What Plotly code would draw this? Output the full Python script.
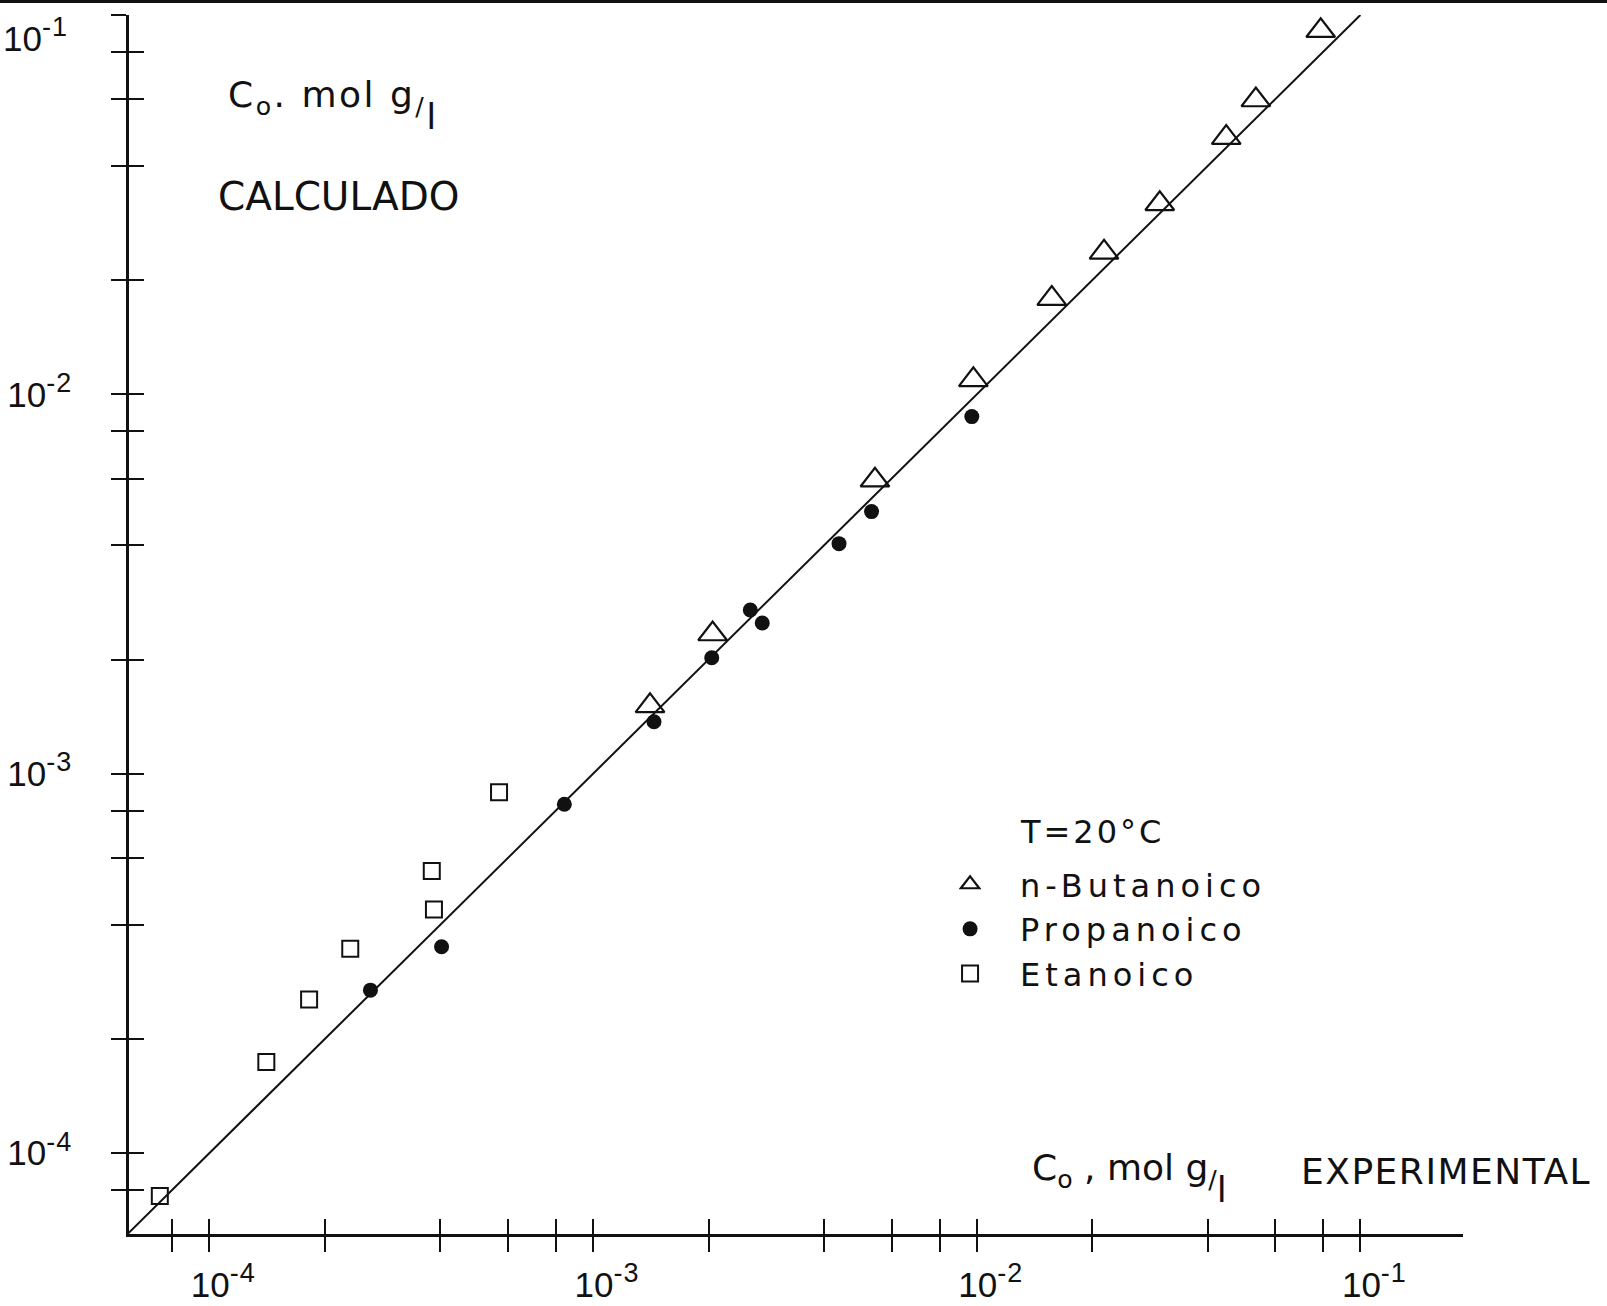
import plotly.graph_objects as go

# ---------------- data ----------------
but_x = [0.0788, 0.0534, 0.0447, 0.0300, 0.02147, 0.01569, 0.00980, 0.00543, 0.00205, 0.001408]
but_y = [0.0909, 0.0597, 0.0475, 0.0318, 0.02368, 0.01788, 0.01092, 0.00594, 0.002336, 0.00151]

prop_x = [0.00971, 0.00532, 0.004377, 0.002570, 0.002761, 0.002039, 0.001442, 0.000842, 0.000403, 0.000263]
prop_y = [0.00874, 0.00491, 0.004042, 0.002702, 0.002497, 0.002023, 0.001372, 0.000831, 0.000350, 0.000269]

etan_x = [0.000569, 0.000380, 0.000385, 0.000233, 0.000182, 0.0001408, 0.0000743]
etan_y = [0.000894, 0.000554, 0.000439, 0.000346, 0.000254, 0.000174, 0.0000771]

fit_x = [6.15e-5, 0.1]
fit_y = [6.15e-5, 0.1]

x_major_vals = [1e-4, 1e-3, 1e-2, 1e-1]
x_major_text = ["10<sup>-4</sup>", "10<sup>-3</sup>", "10<sup>-2</sup>", "10<sup>-1</sup>"]
x_minor_vals = [8e-5, 2e-4, 4e-4, 6e-4, 8e-4, 2e-3, 4e-3, 6e-3, 8e-3,
                2e-2, 4e-2, 6e-2, 8e-2]

y_major_vals = [1e-4, 1e-3, 1e-2]
y_major_text = ["10<sup>-4</sup>", "10<sup>-3</sup>", "10<sup>-2</sup>"]
y_minor_vals = [8e-5, 2e-4, 4e-4, 6e-4, 8e-4, 2e-3, 4e-3, 6e-3, 8e-3,
                2e-2, 4e-2, 6e-2, 8e-2, 1e-1]
y_top_label = "10<sup>-1</sup>"

series_names = ["n-Butanoico", "Propanoico", "Etanoico"]

# ---------------- styling ----------------
INK = "#111111"
TXT = "DejaVu Sans"
NUM = "Liberation Sans Narrow, Liberation Sans, DejaVu Sans"
NUM_SIZE = 35
XR = [-4.2093, -0.7326]
YR = [-4.2130, -1.0]
TL = 15      # tick half-length (ticks cross the axis line)
TW = 1.8


def spaced(s, px):
    return '<span style="letter-spacing:%spx">%s</span>' % (px, s)


def sup_wide(label):
    base, rest = label.split("<sup>")
    exp = rest.replace("</sup>", "")
    return (base + '<sup><span style="font-size:%dpx;letter-spacing:1px">' % round(NUM_SIZE * 0.76)
            + exp + "</span></sup>")


def unit_label(sep, size):
    # "C_o , mol g/l" with the l dropped below the slash, as lettered on the sheet
    return ("C<sub>o</sub>%smol g<sub>/</sub>"
            '<span style="baseline-shift:-%dpx">l</span>' % (sep, round(size * 0.62)))


fig = go.Figure()

fig.add_trace(go.Scatter(
    x=but_x, y=but_y, mode="markers", name=spaced(series_names[0], 5),
    marker=dict(symbol="triangle-up-open", size=25, color=INK,
                line=dict(width=2.2, color=INK)),
))
fig.add_trace(go.Scatter(
    x=prop_x, y=prop_y, mode="markers", name=spaced(series_names[1], 5),
    marker=dict(symbol="circle", size=15, color=INK, line=dict(width=0)),
))
fig.add_trace(go.Scatter(
    x=etan_x, y=etan_y, mode="markers", name=spaced(series_names[2], 5),
    marker=dict(symbol="square-open", size=16, color=INK,
                line=dict(width=2, color=INK)),
))
# 45-degree reference line (drawn on the overlay axes that carry the inner tick halves)
fig.add_trace(go.Scatter(
    x=fit_x, y=fit_y, mode="lines", showlegend=False, hoverinfo="skip",
    line=dict(color=INK, width=2), xaxis="x2", yaxis="y2",
))


def axis(rng, major_vals, major_text, minor_vals, side_ticks, labels, line):
    d = dict(
        type="log", range=rng, automargin=False,
        tickmode="array", tickvals=major_vals,
        ticks=side_ticks, ticklen=TL, tickwidth=TW, tickcolor=INK,
        minor=dict(tickmode="array", tickvals=minor_vals, ticks=side_ticks,
                   ticklen=TL, tickwidth=TW, tickcolor=INK, showgrid=False),
        showgrid=False, zeroline=False,
        showticklabels=labels,
        showline=line, linewidth=2.6, linecolor=INK,
        tickfont=dict(family=NUM, size=NUM_SIZE, color=INK),
    )
    if labels:
        d["ticktext"] = [sup_wide(t) for t in major_text]
    return d


xa = axis(XR, x_major_vals, x_major_text, x_minor_vals, "outside", True, True)
xa.update(ticklabelstandoff=3, ticklabelshift=14)
ya = axis(YR, y_major_vals, y_major_text, y_minor_vals, "outside", True, True)
ya.update(ticklabelstandoff=32)
xa2 = axis(XR, x_major_vals, x_major_text, x_minor_vals, "inside", False, False)
xa2.update(overlaying="x", anchor="y2", side="bottom")
ya2 = axis(YR, y_major_vals, y_major_text, y_minor_vals, "inside", False, False)
ya2.update(overlaying="y", anchor="x2", side="left")

fig.update_layout(
    template="none",
    width=1607, height=1306, autosize=False,
    margin=dict(l=129, r=144, t=15, b=72, autoexpand=False),
    paper_bgcolor="white", plot_bgcolor="white",
    font=dict(family=TXT, color=INK),
    xaxis=xa, yaxis=ya, xaxis2=xa2, yaxis2=ya2,
    showlegend=True,
    legend=dict(x=0.593, y=0.3093, xanchor="left", yanchor="top",
                bgcolor="rgba(0,0,0,0)", borderwidth=0, itemwidth=90,
                font=dict(family=TXT, size=32, color=INK)),
)

annotations = [
    dict(text=spaced(unit_label(". ", 36), 2.5), x=0.0727, y=0.9530, size=36),
    dict(text="CALCULADO", x=0.0652, y=0.8715, size=39),
    dict(text=unit_label(" , ", 36), x=0.6754, y=0.0730, size=36),
    dict(text=spaced("EXPERIMENTAL", 1.5), x=0.8770, y=0.0697, size=36),
    dict(text=spaced("T=20°C", 3), x=0.6664, y=0.3474, size=32),
]
for a in annotations:
    fig.add_annotation(xref="paper", yref="paper", xanchor="left", yanchor="top",
                       showarrow=False, text=a["text"], x=a["x"], y=a["y"],
                       font=dict(family=TXT, color=INK, size=a["size"]))

fig.add_annotation(xref="paper", yref="paper", xanchor="right", yanchor="top",
                   showarrow=False, text=sup_wide(y_top_label), x=-0.0440, y=1.004,
                   font=dict(family=NUM, size=NUM_SIZE, color=INK))

# scan border at the very top of the sheet
fig.add_shape(type="line", xref="paper", yref="paper",
              x0=-0.0967, x1=1.108, y0=1.0111, y1=1.0111,
              line=dict(color=INK, width=3))

fig.write_html("out.html", config={"displayModeBar": False})
